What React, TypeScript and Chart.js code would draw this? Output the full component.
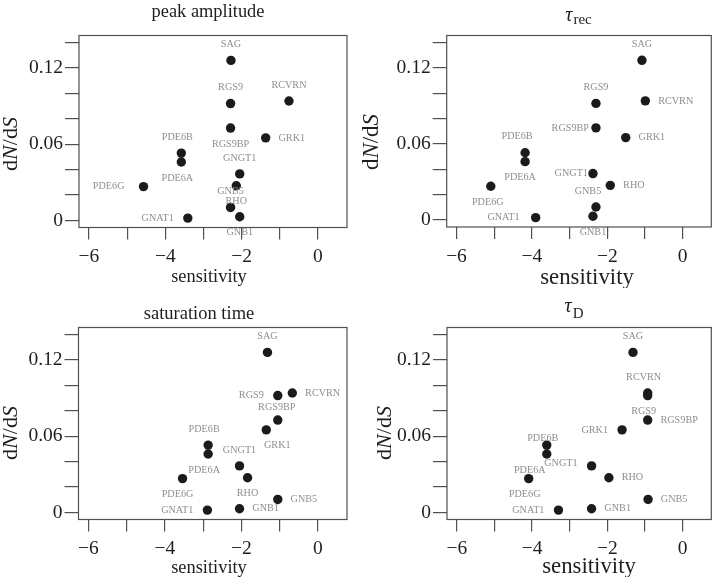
import React, { useEffect, useRef } from 'react';
import { Chart, registerables } from 'chart.js';

Chart.register(...registerables);

// ---------------- data ----------------
const GENES = ['SAG', 'RCVRN', 'RGS9', 'RGS9BP', 'GRK1', 'PDE6B', 'PDE6A', 'GNGT1', 'RHO', 'PDE6G', 'GNB5', 'GNB1', 'GNAT1'];
const DN_DS = [0.126, 0.094, 0.092, 0.0727, 0.065, 0.053, 0.046, 0.0366, 0.0273, 0.0266, 0.0102, 0.0029, 0.0018];
const SENS_PEAK = [-2.28, -0.76, -2.29, -2.29, -1.37, -3.58, -3.58, -2.05, -2.14, -4.57, -2.29, -2.05, -3.41];
const SENS_TREC = [-1.08, -0.99, -2.3, -2.3, -1.51, -4.18, -4.18, -2.38, -1.92, -5.09, -2.3, -2.38, -3.9];
const SENS_SAT = [-1.32, -0.67, -1.05, -1.05, -1.35, -2.87, -2.87, -2.05, -1.84, -3.54, -1.05, -2.05, -2.89];
const SENS_TD = [-1.32, -0.93, -0.93, -0.93, -1.61, -3.61, -3.61, -2.42, -1.96, -4.09, -0.92, -2.42, -3.3];
const X_TICK_LABELS = [-6, -4, -2, 0];
const Y_TICK_LABELS = [0, 0.06, 0.12];
const X_RANGE = [-6.26, 0.76];
const Y_RANGE = [-0.0056, 0.1456];

// ---------------- label placement (a=above, b=below, l=left, r=right) ----------------
const POS_PEAK = ['a', 'a', 'a', 'b', 'r', 'a', 'b', 'a', 'b', 'l', 'a', 'b', 'l'];
const POS_TREC = ['a', 'r', 'a', 'l', 'r', 'a', 'b', 'l', 'r', 'b', 'a', 'b', 'l'];
const POS_SAT = ['a', 'r', 'l', 'a', 'b', 'a', 'b', 'a', 'b', 'b', 'r', 'r', 'l'];
const POS_TD = ['a', 'a', 'b', 'r', 'l', 'a', 'b', 'l', 'r', 'b', 'r', 'r', 'l'];

const NUDGE_PEAK: Record<string, number[]> = { PDE6B: [-4, 0], PDE6A: [-4, 0], PDE6G: [-5, 0] };
const NUDGE_TREC: Record<string, number[]> = { RGS9BP: [7, 0], GNGT1: [9, 0], PDE6B: [-8, 0], PDE6A: [-5, 0], PDE6G: [-3, 0], GNB5: [-8, 0], GNAT1: [-2, 0] };
const NUDGE_SAT: Record<string, number[]> = { RGS9BP: [-1, 3], GRK1: [11, -1], PDE6B: [-4, 0], PDE6A: [-4, 0], PDE6G: [-5, 0] };
const NUDGE_TD: Record<string, number[]> = { RCVRN: [-4, 0], RGS9: [-4, 0], PDE6B: [-4, 9], PDE6A: [-17, 0], PDE6G: [-4, 0], GNGT1: [0, -3] };

const SERIF = '"Liberation Serif", "Times New Roman", Times, serif';
const AXIS = '#505050';
const TEXT = '#1e1e1e';
const LABEL = '#8e8e8e';

type Title =
  | { kind: 'text'; text: string; x: number; base: number; size: number }
  | { kind: 'tau'; sub: string; x: number; base: number; subBase: number; size: number; subSize: number };

interface PanelSpec {
  x: number; y: number; w: number; h: number;
  area: { l: number; t: number; r: number; b: number };
  sens: number[];
  pos: string[];
  nudge: Record<string, number[]>;
  title: Title;
  ylab: { x: number; y: number; size: number };
  xlab: { x: number; base: number; size: number };
}

const PANELS: PanelSpec[] = [
  {
    x: 0, y: 0, w: 358, h: 288,
    area: { l: 79, t: 35.5, r: 347, b: 227.5 },
    sens: SENS_PEAK, pos: POS_PEAK, nudge: NUDGE_PEAK,
    title: { kind: 'text', text: 'peak amplitude', x: 208, base: 17, size: 18.4 },
    ylab: { x: 17, y: 144, size: 22 },
    xlab: { x: 209, base: 281.5, size: 18.4 },
  },
  {
    x: 358, y: 0, w: 358, h: 288,
    area: { l: 446.7, t: 35.5, r: 713.5, b: 227 },
    sens: SENS_TREC, pos: POS_TREC, nudge: NUDGE_TREC,
    title: { kind: 'tau', sub: 'rec', x: 578.5, base: 21, subBase: 23.5, size: 20, subSize: 15 },
    ylab: { x: 378, y: 142, size: 23 },
    xlab: { x: 587, base: 283.5, size: 22.8 },
  },
  {
    x: 0, y: 288, w: 358, h: 289,
    area: { l: 78.5, t: 327.5, r: 347, b: 519.5 },
    sens: SENS_SAT, pos: POS_SAT, nudge: NUDGE_SAT,
    title: { kind: 'text', text: 'saturation time', x: 199, base: 319, size: 18.5 },
    ylab: { x: 17, y: 433, size: 22 },
    xlab: { x: 209, base: 572.5, size: 18.4 },
  },
  {
    x: 358, y: 288, w: 358, h: 289,
    area: { l: 447, t: 327.5, r: 714.5, b: 519.5 },
    sens: SENS_TD, pos: POS_TD, nudge: NUDGE_TD,
    title: { kind: 'tau', sub: 'D', x: 574, base: 312, subBase: 318, size: 20, subSize: 15 },
    ylab: { x: 391, y: 433, size: 22 },
    xlab: { x: 589, base: 572.5, size: 22.8 },
  },
];

function near(a: number, b: number) {
  return Math.abs(a - b) < 1e-9;
}

function decorPlugin(p: PanelSpec) {
  return {
    id: 'decor',
    afterDatasetsDraw(chart: any) {
      const { ctx, chartArea: a, scales } = chart;
      const ox = p.x;
      const oy = p.y;
      ctx.save();
      // plot box
      ctx.strokeStyle = AXIS;
      ctx.lineWidth = 1.2;
      ctx.strokeRect(a.left, a.top, a.right - a.left, a.bottom - a.top);

      // gene labels
      ctx.font = `10.2px ${SERIF}`;
      ctx.fillStyle = LABEL;
      ctx.textBaseline = 'middle';
      GENES.forEach((g, i) => {
        const px = scales.x.getPixelForValue(p.sens[i]);
        const py = scales.y.getPixelForValue(DN_DS[i]);
        const code = p.pos[i];
        const nd = p.nudge[g] || [0, 0];
        let x = px;
        let y = py;
        let align: CanvasTextAlign = 'center';
        if (code === 'a') y = py - 16;
        else if (code === 'b') y = py + 16;
        else if (code === 'l') { x = px - 14; align = 'right'; }
        else { x = px + 12.8; align = 'left'; }
        ctx.textAlign = align;
        ctx.fillText(g, x + nd[0], y + nd[1]);
      });

      // title
      ctx.fillStyle = TEXT;
      ctx.textBaseline = 'alphabetic';
      const t = p.title;
      if (t.kind === 'text') {
        ctx.font = `${t.size}px ${SERIF}`;
        ctx.textAlign = 'center';
        ctx.fillText(t.text, t.x - ox, t.base - oy);
      } else {
        ctx.textAlign = 'left';
        const tauFont = `italic ${t.size}px ${SERIF}`;
        const subFont = `${t.subSize}px ${SERIF}`;
        ctx.font = tauFont;
        const w1 = ctx.measureText('\u03C4').width;
        ctx.font = subFont;
        const w2 = ctx.measureText(t.sub).width;
        const start = t.x - ox - (w1 + w2 + 1) / 2;
        ctx.font = tauFont;
        ctx.fillText('\u03C4', start, t.base - oy);
        ctx.font = subFont;
        ctx.fillText(t.sub, start + w1 + 1, t.subBase - oy);
      }

      // x axis title
      ctx.font = `${p.xlab.size}px ${SERIF}`;
      ctx.textAlign = 'center';
      ctx.fillText('sensitivity', p.xlab.x - ox, p.xlab.base - oy);

      // y axis title: dN/dS with italic N and S
      const parts: [string, boolean][] = [['d', false], ['N', true], ['/', false], ['d', false], ['S', true]];
      const sz = p.ylab.size;
      let total = 0;
      const widths = parts.map(([s, it]) => {
        ctx.font = `${it ? 'italic ' : ''}${sz}px ${SERIF}`;
        const w = ctx.measureText(s).width;
        total += w;
        return w;
      });
      ctx.save();
      ctx.translate(p.ylab.x - ox, p.ylab.y - oy);
      ctx.rotate(-Math.PI / 2);
      ctx.textAlign = 'left';
      let cx = -total / 2;
      parts.forEach(([s, it], i) => {
        ctx.font = `${it ? 'italic ' : ''}${sz}px ${SERIF}`;
        ctx.fillText(s, cx, 0);
        cx += widths[i];
      });
      ctx.restore();
      ctx.restore();
    },
  };
}

function makeConfig(p: PanelSpec): any {
  const la = { l: p.area.l - p.x, t: p.area.t - p.y, r: p.area.r - p.x, b: p.area.b - p.y };
  return {
    type: 'scatter',
    data: {
      datasets: [
        {
          data: p.sens.map((s, i) => ({ x: s, y: DN_DS[i] })),
          pointRadius: 4.7,
          pointHoverRadius: 4.7,
          backgroundColor: '#1b1b1b',
          borderWidth: 0,
          clip: false,
        },
      ],
    },
    options: {
      animation: false,
      responsive: false,
      events: [],
      layout: { padding: { left: 0, top: la.t, right: p.w - la.r, bottom: 0 } },
      plugins: { legend: { display: false }, tooltip: { enabled: false }, title: { display: false } },
      scales: {
        x: {
          type: 'linear',
          position: 'bottom',
          min: X_RANGE[0],
          max: X_RANGE[1],
          afterFit: (s: any) => { s.height = p.h - la.b; },
          border: { display: false },
          grid: { drawOnChartArea: false, drawTicks: true, tickLength: 12, color: AXIS, lineWidth: 1.2 },
          ticks: {
            stepSize: 1,
            includeBounds: false,
            autoSkip: false,
            maxRotation: 0,
            minRotation: 0,
            padding: 6,
            color: TEXT,
            font: { family: SERIF, size: 19.5 },
            callback: (v: number) => {
              const t = X_TICK_LABELS.find((k) => near(k, v));
              if (t === undefined) return '';
              return t < 0 ? '\u2212' + Math.abs(t) : String(t);
            },
          },
        },
        y: {
          type: 'linear',
          position: 'left',
          min: Y_RANGE[0],
          max: Y_RANGE[1],
          afterFit: (s: any) => { s.width = la.l; },
          border: { display: false },
          grid: { drawOnChartArea: false, drawTicks: true, tickLength: 14, color: AXIS, lineWidth: 1.2 },
          ticks: {
            stepSize: 0.02,
            includeBounds: false,
            autoSkip: false,
            padding: 2,
            color: TEXT,
            font: { family: SERIF, size: 19.5 },
            callback: (v: number) => {
              const t = Y_TICK_LABELS.find((k) => near(k, v));
              return t === undefined ? '' : String(t);
            },
          },
        },
      },
    },
    plugins: [decorPlugin(p)],
  };
}

function Panel({ p }: { p: PanelSpec }) {
  const ref = useRef<HTMLCanvasElement>(null);
  useEffect(() => {
    const chart = new Chart(ref.current as HTMLCanvasElement, makeConfig(p));
    return () => chart.destroy();
  }, [p]);
  return (
    <canvas
      ref={ref}
      width={p.w}
      height={p.h}
      style={{ position: 'absolute', left: p.x, top: p.y, width: p.w, height: p.h }}
    />
  );
}

export default function App() {
  return (
    <div style={{ position: 'absolute', left: 0, top: 0, width: 716, height: 577, background: '#fff' }}>
      {PANELS.map((p, i) => (
        <Panel key={i} p={p} />
      ))}
    </div>
  );
}
